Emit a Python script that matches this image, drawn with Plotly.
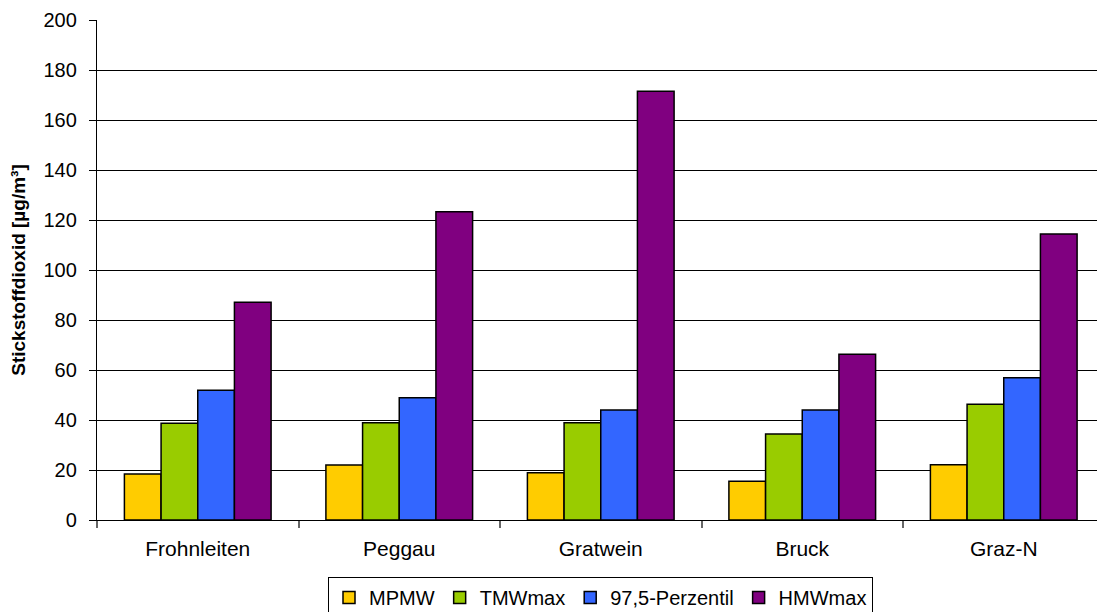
import plotly.graph_objects as go

# Monitoring stations
stations = ["Frohnleiten", "Peggau", "Gratwein", "Bruck", "Graz-N"]

# NO2 statistics per station [µg/m³]
mpmw = [18.4, 22.0, 18.9, 15.5, 22.1]
tmw_max = [38.7, 38.9, 38.9, 34.4, 46.3]
perz_97_5 = [51.9, 48.9, 44.0, 44.0, 56.9]
hmw_max = [87.1, 123.3, 171.5, 66.3, 114.4]

series_names = ["MPMW", "TMWmax", "97,5-Perzentil", "HMWmax"]
series_values = [mpmw, tmw_max, perz_97_5, hmw_max]
series_colors = ["#FFCC00", "#99CC00", "#3366FF", "#800080"]

y_ticks = list(range(0, 201, 20))

FONT = "Liberation Sans, Arial, sans-serif"

fig = go.Figure()
for name, vals, col in zip(series_names, series_values, series_colors):
    fig.add_trace(go.Bar(
        x=stations, y=vals, name=name,
        marker=dict(color=col, line=dict(color="black", width=1.5)),
    ))

fig.update_layout(
    width=1097, height=612,
    margin=dict(l=97, r=0, t=20, b=92, autoexpand=False),
    paper_bgcolor="white", plot_bgcolor="white",
    barmode="group", bargap=0.272, bargroupgap=0,
    font=dict(family=FONT, color="black", size=20),
    showlegend=True,
    legend=dict(
        orientation="h", x=0.5035, xanchor="center", y=-0.114, yanchor="top",
        bordercolor="black", borderwidth=1, bgcolor="white",
        font=dict(family=FONT, size=20, color="black"),
        itemwidth=30, tracegroupgap=0, itemclick=False,
    ),
)

fig.update_xaxes(
    type="category", range=[-0.5, -0.5 + 1000 / 201.5],
    showline=True, linecolor="black", linewidth=1.3,
    ticks="outside", tickson="boundaries", ticklen=7, tickcolor="#666666", tickwidth=1.5,
    ticklabelstandoff=10,
    tickfont=dict(family=FONT, size=21, color="black"),
    showgrid=False, zeroline=False,
)

fig.update_yaxes(
    range=[0, 200], tickvals=y_ticks,
    showline=True, linecolor="black", linewidth=1.3,
    ticks="outside", ticklen=7, tickcolor="black", tickwidth=1.3,
    ticklabelstandoff=8,
    tickfont=dict(family=FONT, size=20, color="black"),
    showgrid=True, gridcolor="black", gridwidth=1.3,
    zeroline=False,
    title=dict(text="<b>Stickstoffdioxid [µg/m³]</b>", standoff=12,
               font=dict(family=FONT, size=19, color="black")),
)

fig.write_html("out.html")
